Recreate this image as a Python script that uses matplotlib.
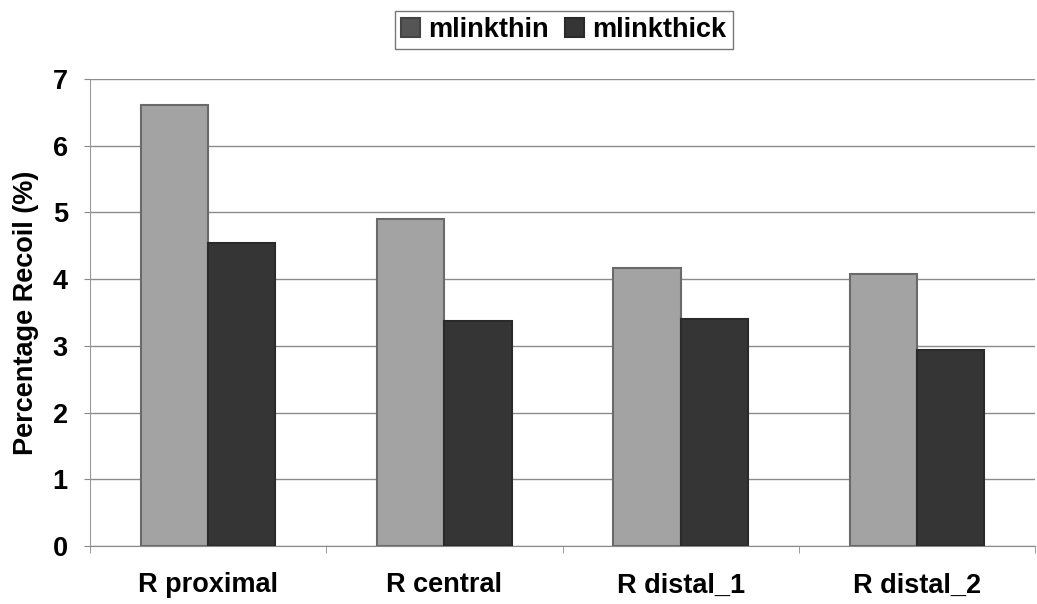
import matplotlib
matplotlib.use("Agg")
import matplotlib.pyplot as plt
import numpy as np

categories = ["R proximal", "R central", "R distal_1", "R distal_2"]
mlinkthin = [6.61, 4.90, 4.17, 4.08]
mlinkthick = [4.54, 3.37, 3.40, 2.94]
yticks = [0, 1, 2, 3, 4, 5, 6, 7]

plt.rcParams["font.family"] = ["Liberation Sans", "DejaVu Sans"]
plt.rcParams["font.weight"] = "bold"

FS = 19.5

fig = plt.figure(figsize=(10.37, 6.04), dpi=100)
ax = fig.add_axes([90 / 1037, 1 - 546 / 604, (1035 - 90) / 1037, (546 - 79) / 604])

x = np.arange(len(categories))
w = 0.285
ax.bar(x - w / 2, mlinkthin, width=w, color="#a3a3a3", edgecolor="#6a6a6a",
       linewidth=1.5, label="mlinkthin", zorder=3)
ax.bar(x + w / 2, mlinkthick, width=w, color="#353535", edgecolor="#2a2a2a",
       linewidth=1.5, label="mlinkthick", zorder=3)

ax.set_xlim(-0.5, len(categories) - 0.5)
ax.set_ylim(0, 7)
ax.set_yticks(yticks)
ax.set_yticklabels([str(t) for t in yticks], fontsize=FS, fontweight="bold")
ax.set_xticks(x)
ax.set_xticklabels(categories, fontsize=FS, fontweight="bold")
ax.set_xticks(np.arange(len(categories) + 1) - 0.5, minor=True)
ax.tick_params(axis="x", which="major", length=0, pad=19)
ax.tick_params(axis="x", which="minor", length=5, color="#8a8a8a")
ax.tick_params(axis="y", length=4, color="#888888", pad=12)

ax.yaxis.grid(True, color="#8c8c8c", linewidth=1.0, zorder=0)
for side in ["top", "right"]:
    ax.spines[side].set_visible(False)
ax.spines["left"].set_color("#9a9a9a")
ax.spines["bottom"].set_color("#8a8a8a")

ax.set_ylabel("Percentage Recoil (%)", fontsize=FS, fontweight="bold", labelpad=10)

leg = fig.legend(loc="center", bbox_to_anchor=(564 / 1037, 1 - 30 / 604), ncol=2,
                 frameon=True, fancybox=False, prop={"weight": "bold", "size": FS},
                 handlelength=0.7, handleheight=0.7, handletextpad=0.3, columnspacing=0.6,
                 borderpad=0.22, borderaxespad=0)
leg.get_frame().set_edgecolor("#555555")
leg.get_frame().set_linewidth(1.0)
# the printed key renders the light series as a darker swatch
leg.legend_handles[0].set_facecolor("#555555")
leg.legend_handles[0].set_edgecolor("#444444")

fig.savefig("out.png", dpi=100)
